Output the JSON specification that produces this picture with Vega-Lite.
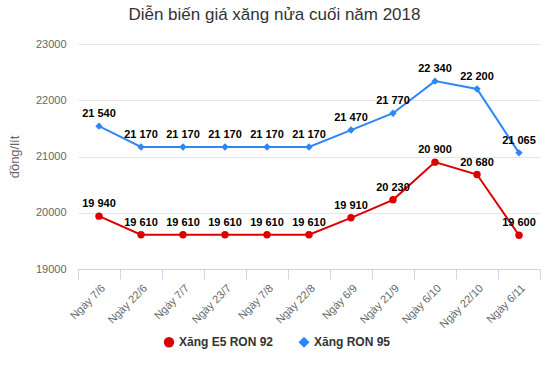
{
  "$schema": "https://vega.github.io/schema/vega-lite/v6.json",
  "width": 462,
  "height": 225,
  "autosize": {"type": "none"},
  "padding": {"left": 78, "top": 44, "right": 10, "bottom": 98},
  "background": "white",
  "config": {
    "font": "Liberation Sans",
    "locale": {"number": {"decimal": ",", "thousands": " ", "grouping": [3], "currency": ["", ""]}},
    "view": {"stroke": null}
  },
  "title": {
    "text": "Diễn biến giá xăng nửa cuối năm 2018",
    "fontSize": 17,
    "fontWeight": "normal",
    "color": "#333333",
    "anchor": "middle",
    "frame": "bounds",
    "offset": 14
  },
  "data": {
    "values": [
      {"date": "Ngày 7/6", "series": "Xăng E5 RON 92", "value": 19940},
      {"date": "Ngày 22/6", "series": "Xăng E5 RON 92", "value": 19610},
      {"date": "Ngày 7/7", "series": "Xăng E5 RON 92", "value": 19610},
      {"date": "Ngày 23/7", "series": "Xăng E5 RON 92", "value": 19610},
      {"date": "Ngày 7/8", "series": "Xăng E5 RON 92", "value": 19610},
      {"date": "Ngày 22/8", "series": "Xăng E5 RON 92", "value": 19610},
      {"date": "Ngày 6/9", "series": "Xăng E5 RON 92", "value": 19910},
      {"date": "Ngày 21/9", "series": "Xăng E5 RON 92", "value": 20230},
      {"date": "Ngày 6/10", "series": "Xăng E5 RON 92", "value": 20900},
      {"date": "Ngày 22/10", "series": "Xăng E5 RON 92", "value": 20680},
      {"date": "Ngày 6/11", "series": "Xăng E5 RON 92", "value": 19600},
      {"date": "Ngày 7/6", "series": "Xăng RON 95", "value": 21540},
      {"date": "Ngày 22/6", "series": "Xăng RON 95", "value": 21170},
      {"date": "Ngày 7/7", "series": "Xăng RON 95", "value": 21170},
      {"date": "Ngày 23/7", "series": "Xăng RON 95", "value": 21170},
      {"date": "Ngày 7/8", "series": "Xăng RON 95", "value": 21170},
      {"date": "Ngày 22/8", "series": "Xăng RON 95", "value": 21170},
      {"date": "Ngày 6/9", "series": "Xăng RON 95", "value": 21470},
      {"date": "Ngày 21/9", "series": "Xăng RON 95", "value": 21770},
      {"date": "Ngày 6/10", "series": "Xăng RON 95", "value": 22340},
      {"date": "Ngày 22/10", "series": "Xăng RON 95", "value": 22200},
      {"date": "Ngày 6/11", "series": "Xăng RON 95", "value": 21065}
    ]
  },
  "encoding": {
    "x": {
      "field": "date",
      "type": "nominal",
      "sort": null,
      "bandPosition": 0.5,
      "scale": {"type": "band", "paddingInner": 0, "paddingOuter": 0},
      "axis": {
        "title": null,
        "labelAngle": -45,
        "labelColor": "#666666",
        "labelFontSize": 11,
        "labelPadding": 3,
        "tickBand": "extent",
        "domainColor": "#ccd6eb",
        "tickColor": "#ccd6eb",
        "tickSize": 10,
        "grid": false
      }
    },
    "y": {
      "field": "value",
      "type": "quantitative",
      "scale": {"domain": [19000, 23000], "nice": false, "zero": false},
      "axis": {
        "title": "đồng/lít",
        "titleFontSize": 13,
        "titleFontWeight": "normal",
        "titleColor": "#666666",
        "titlePadding": 14,
        "values": [19000, 20000, 21000, 22000, 23000],
        "format": "d",
        "labelColor": "#666666",
        "labelFontSize": 11,
        "labelPadding": 12,
        "domain": false,
        "ticks": false,
        "gridColor": "#e6e6e6"
      }
    },
    "color": {
      "field": "series",
      "type": "nominal",
      "scale": {"domain": ["Xăng E5 RON 92", "Xăng RON 95"], "range": ["#dd0000", "#2f86f6"]},
      "legend": {
        "title": null,
        "orient": "none",
        "legendX": 85,
        "legendY": 292,
        "direction": "horizontal",
        "labelFontSize": 12,
        "labelFontWeight": "bold",
        "labelColor": "#333333",
        "symbolSize": 80,
        "columnPadding": 22
      }
    }
  },
  "layer": [
    {"mark": {"type": "line", "strokeWidth": 2}},
    {
      "mark": {"type": "point", "filled": true, "opacity": 1},
      "encoding": {
        "shape": {
          "field": "series",
          "type": "nominal",
          "scale": {"domain": ["Xăng E5 RON 92", "Xăng RON 95"], "range": ["circle", "diamond"]},
          "legend": null
        },
        "size": {"value": 55}
      }
    },
    {
      "mark": {"type": "text", "dy": -12, "fontWeight": "bold", "fontSize": 11, "color": "#000000"},
      "encoding": {
        "text": {"field": "value", "type": "quantitative", "format": ",d"},
        "color": {"value": "#000000"}
      }
    }
  ]
}
